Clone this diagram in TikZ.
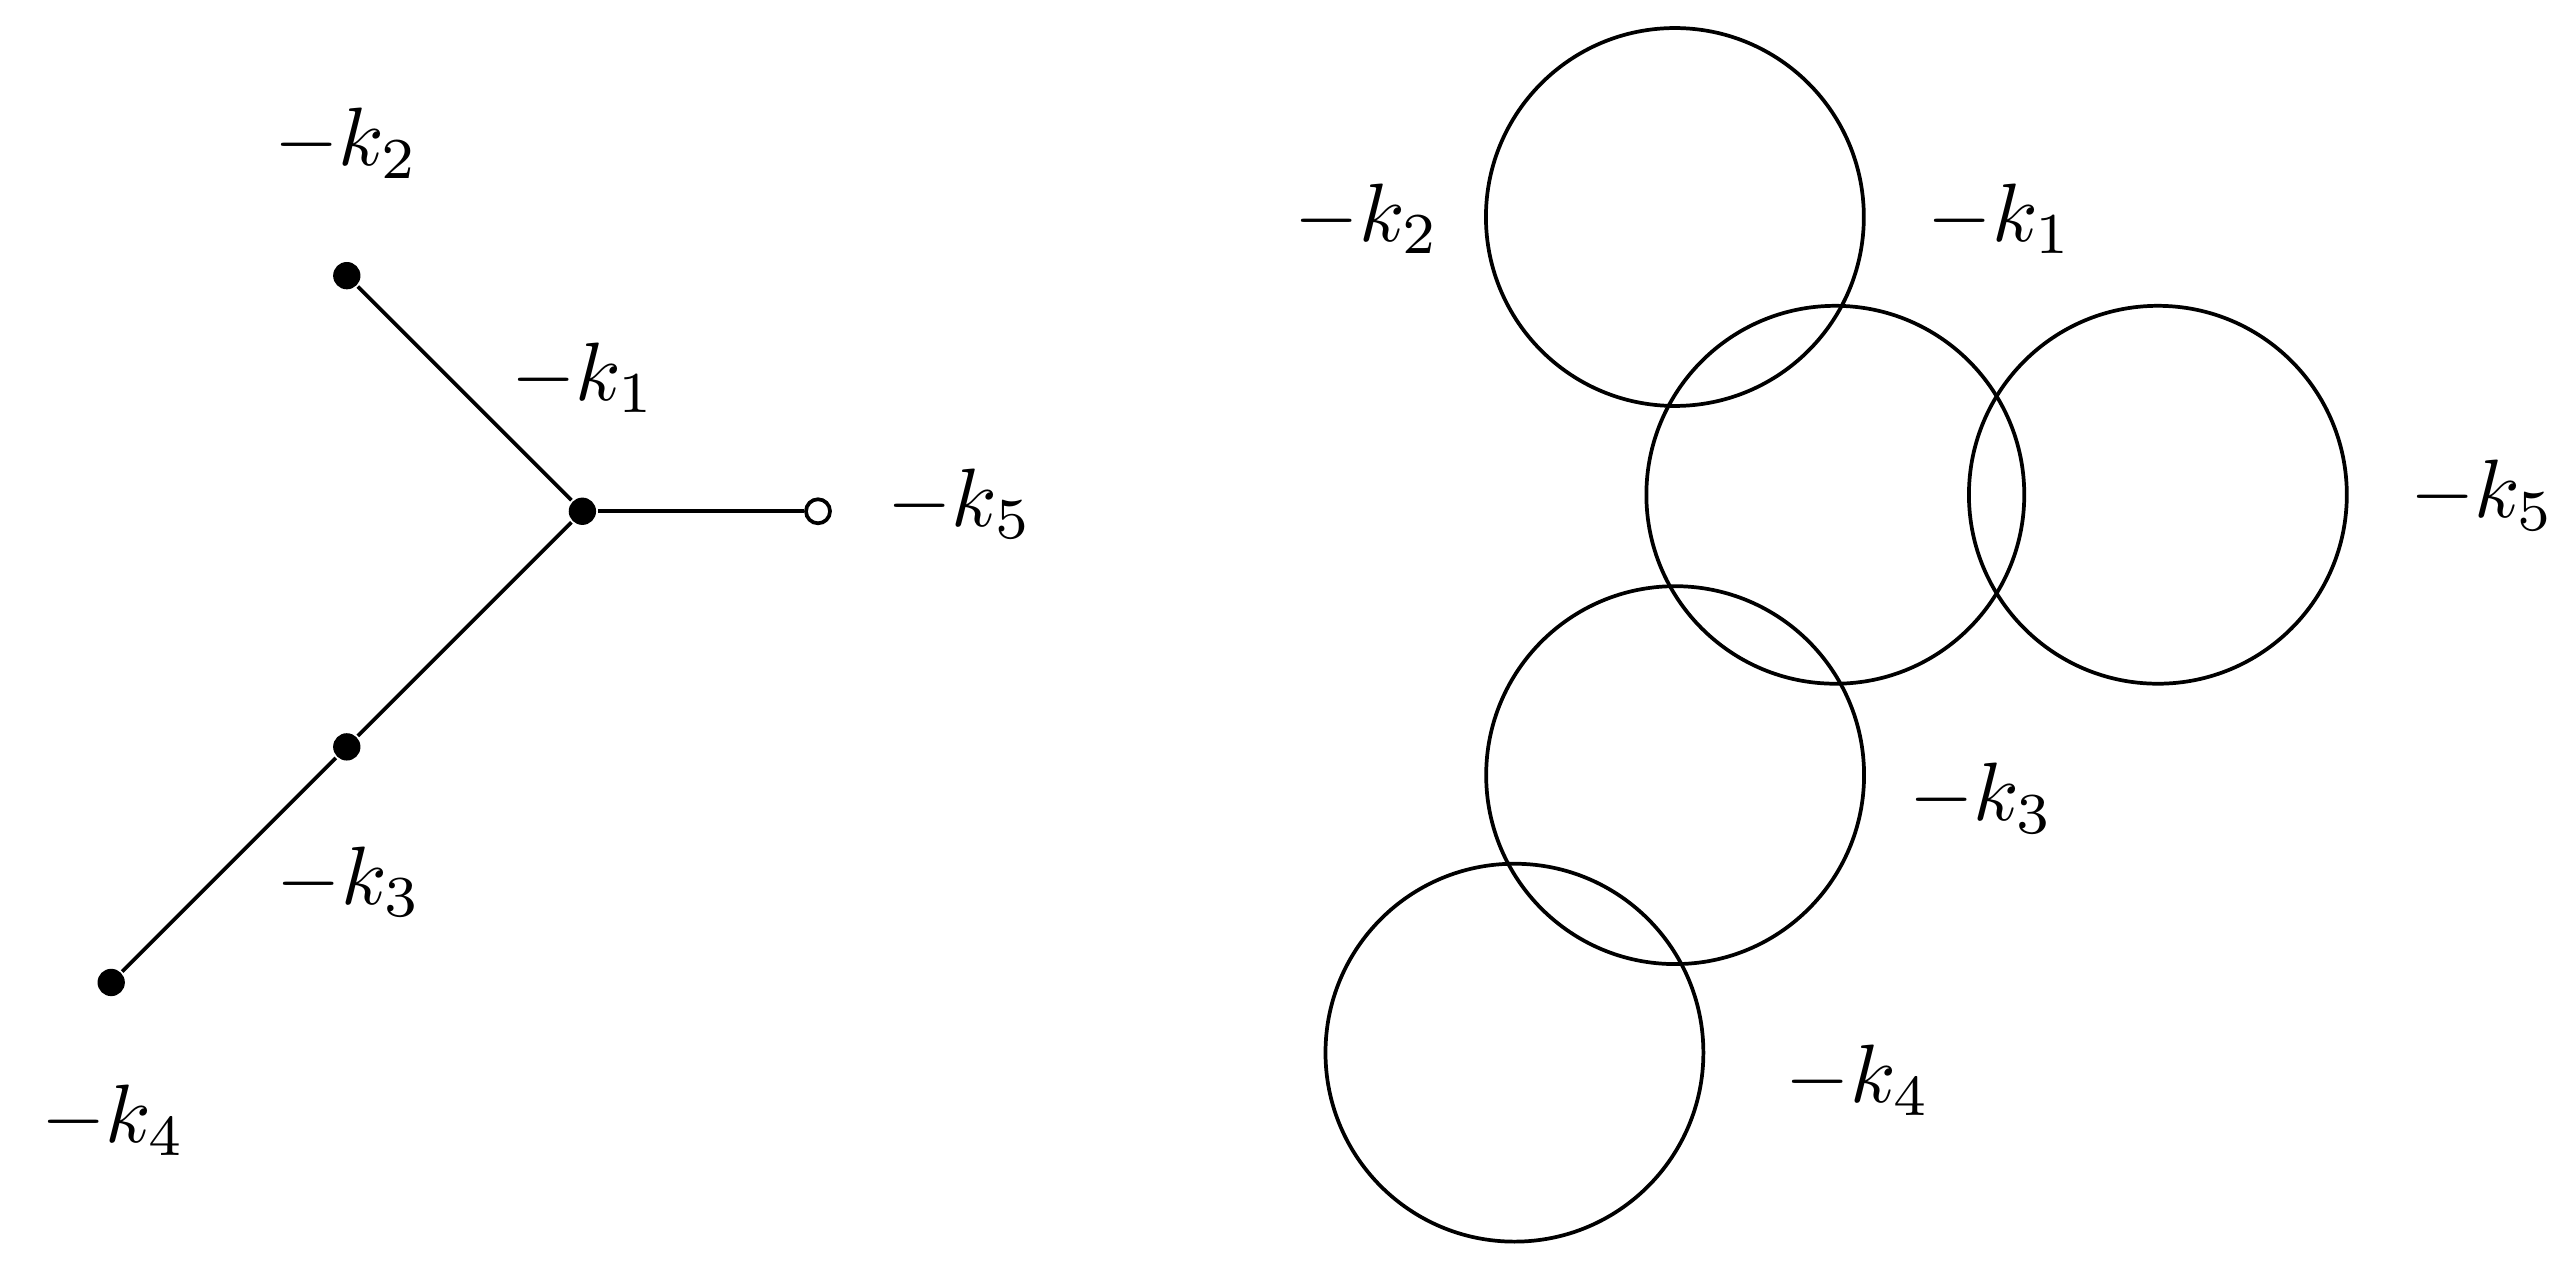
\documentclass[tikz,border=0pt]{standalone}
\begin{document}
\begin{tikzpicture}[
  line width=0.45pt,
  fdot/.style={circle,fill=black,draw=none,inner sep=0pt,minimum size=3.3pt},
  odot/.style={circle,fill=white,draw=black,line width=0.45pt,inner sep=0pt,minimum size=2.9pt},
  lab/.style={inner sep=0pt},
  ring/.style={draw=black,line width=0.45pt}
]
\useasboundingbox (-2.472,-3.195) rectangle (8.432,2.170);
% left graph
\node[fdot] (c) at (0,0) {};
\node[fdot] (n2) at (-1,1) {};
\node[odot] (n5) at (1,0) {};
\node[fdot] (n3) at (-1,-1) {};
\node[fdot] (n4) at (-2,-2) {};
\draw (n2) -- (c);
\draw (c) -- (n5);
\draw (c) -- (n3);
\draw (n3) -- (n4);
\node[lab,anchor=base] (l2) at (-1,1.466) {$-k_2$};
\node[lab,anchor=base] (l1) at (0.005,0.472) {$-k_1$};
\node[lab,anchor=base west] (l5) at (1.287,-0.063) {$-k_5$};
\node[lab,anchor=base] (l3) at (-0.99,-1.667) {$-k_3$};
\node[lab,anchor=base] (l4) at (-1.99,-2.680) {$-k_4$};
% right circles
\node[ring,circle,minimum size=1.604cm,inner sep=0pt] (r1) at (4.637,1.249) {};
\node[ring,circle,minimum size=1.604cm,inner sep=0pt] (r2) at (5.318,0.070) {};
\node[ring,circle,minimum size=1.604cm,inner sep=0pt] (r5) at (6.687,0.070) {};
\node[ring,circle,minimum size=1.604cm,inner sep=0pt] (r3) at (4.638,-1.120) {};
\node[ring,circle,minimum size=1.604cm,inner sep=0pt] (r4) at (3.956,-2.298) {};
\node[lab,anchor=base west] (m2) at (3.016,1.147) {$-k_2$};
\node[lab,anchor=base west] (m1) at (5.702,1.147) {$-k_1$};
\node[lab,anchor=base west] (m5) at (7.750,-0.028) {$-k_5$};
\node[lab,anchor=base west] (m3) at (5.623,-1.314) {$-k_3$};
\node[lab,anchor=base west] (m4) at (5.099,-2.511) {$-k_4$};
\end{tikzpicture}
\end{document}
